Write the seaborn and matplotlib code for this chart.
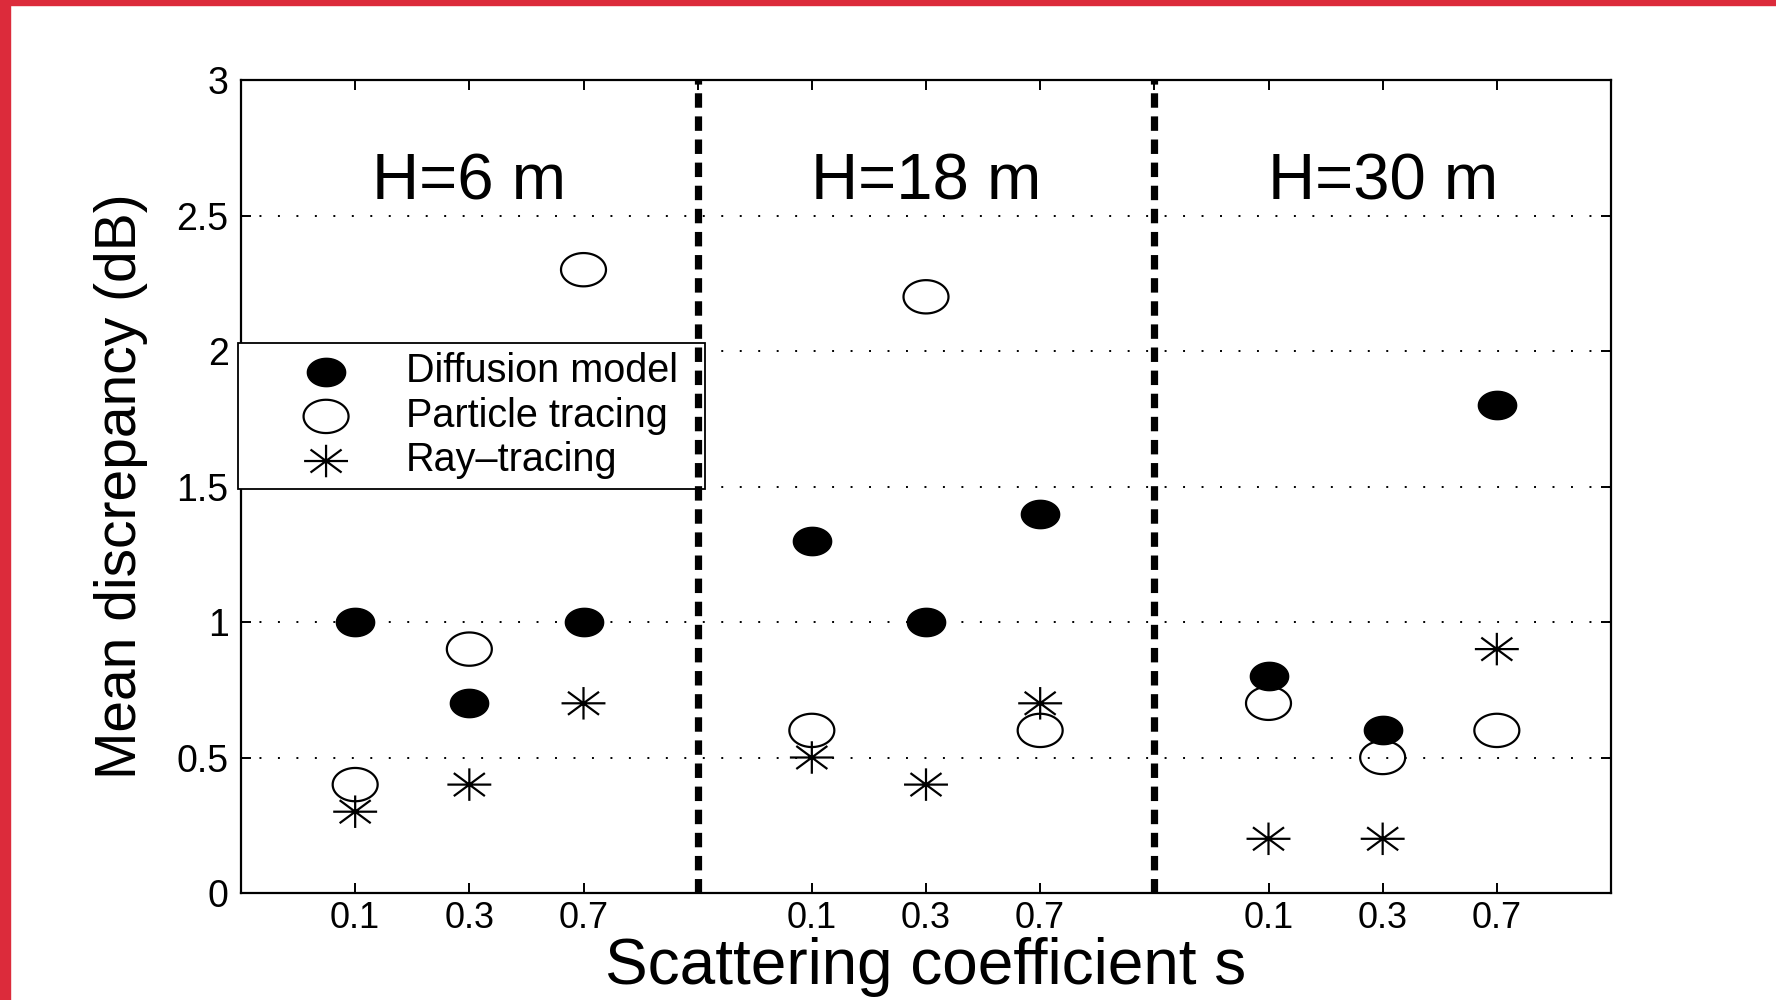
import numpy as np
import pandas as pd
import matplotlib
matplotlib.use("Agg")
import matplotlib.pyplot as plt
from matplotlib.path import Path
from matplotlib.patches import Rectangle
import seaborn as sns

# ---------------- data ----------------
heights = ["H=6 m", "H=18 m", "H=30 m"]
scattering = ["0.1", "0.3", "0.7"]
diffusion = [1.0, 0.7, 1.0, 1.3, 1.0, 1.4, 0.8, 0.6, 1.8]
particle = [0.4, 0.9, 2.3, 0.6, 2.2, 0.6, 0.7, 0.5, 0.6]
raytracing = [0.3, 0.4, 0.7, 0.5, 0.4, 0.7, 0.2, 0.2, 0.9]
series_names = ["Diffusion model", "Particle tracing", "Ray\u2013tracing"]
y_ticks = [0, 0.5, 1, 1.5, 2, 2.5, 3]
y_ticklabels = ["0", "0.5", "1", "1.5", "2", "2.5", "3"]

# positions: three groups of three categories separated by a divider slot
xpos = [4 * g + i + 1 for g in range(len(heights)) for i in range(len(scattering))]
df = pd.DataFrame({
    "x": xpos * 3,
    "y": diffusion + particle + raytracing,
    "series": [series_names[0]] * 9 + [series_names[1]] * 9 + [series_names[2]] * 9,
})

# ---------------- style ----------------
sns.set_style("ticks")
plt.rcParams["font.family"] = ["Liberation Sans", "DejaVu Sans"]
plt.rcParams["axes.linewidth"] = 1.6
for k in ["text.color", "axes.labelcolor", "xtick.color", "ytick.color", "axes.edgecolor"]:
    plt.rcParams[k] = "black"

fig = plt.figure(figsize=(17.76, 10), dpi=100)
ax = fig.add_axes([241 / 1776, 1 - 893 / 1000, (1611 - 241) / 1776, (893 - 80) / 1000])

# ellipse marker (horizontally stretched circle)
t = np.linspace(0, 2 * np.pi, 64)
ell = Path(np.column_stack([np.cos(t), 0.74 * np.sin(t)]), closed=True)
# asterisk marker (8 rays, stretched horizontally)
angs = np.deg2rad([0, 45, 90, 135])
verts, codes = [], []
for a in angs:
    dx, dy = np.cos(a), 0.74 * np.sin(a)
    verts += [(-dx, -dy), (dx, dy)]
    codes += [Path.MOVETO, Path.LINETO]
star = Path(verts, codes)

d0 = df[df.series == series_names[0]]
d1 = df[df.series == series_names[1]]
d2 = df[df.series == series_names[2]]

sns.scatterplot(data=d0, x="x", y="y", marker=ell, s=760, color="black",
                facecolor="black", edgecolor="black", linewidth=1.0,
                label=series_names[0], ax=ax, zorder=3)
sns.scatterplot(data=d1, x="x", y="y", marker=ell, s=1050, color="black",
                facecolor="none", edgecolor="black", linewidth=1.6,
                label=series_names[1], ax=ax, zorder=3)
sns.scatterplot(data=d2, x="x", y="y", marker=star, s=1000, color="black",
                facecolor="none", edgecolor="black", linewidth=1.6,
                label=series_names[2], ax=ax, zorder=4)

# dividers between height groups
for xd in [4, 8]:
    ax.axvline(xd, color="black", linewidth=5.2, linestyle=(0, (2.0, 1.2)),
               dash_capstyle="butt", zorder=6)

# group titles
for g, h in enumerate(heights):
    ax.text(4 * g + 2, 2.62, h, ha="center", va="center", fontsize=47)

ax.set_xlim(0, 12)
ax.set_ylim(0, 3)
xt = list(range(1, 12))
xl = []
for v in xt:
    xl.append("" if v % 4 == 0 else scattering[(v % 4) - 1])
ax.set_xticks(xt)
ax.set_xticklabels(xl)
ax.set_yticks(y_ticks)
ax.set_yticklabels(y_ticklabels)
ax.tick_params(direction="in", length=7, width=1.4, top=True, right=True,
               labelsize=27, pad=9)
ax.tick_params(axis="x", pad=5.5, labelsize=26)
ax.yaxis.grid(True, linestyle=(0, (1, 8.5)), color="black", linewidth=1.4)
ax.xaxis.grid(False)
for sp in ax.spines.values():
    sp.set_visible(True)
    sp.set_color("black")

ax.set_xlabel("Scattering coefficient s", fontsize=46)
ax.xaxis.set_label_coords(0.5, -0.054)
ax.set_ylabel("Mean discrepancy (dB)", fontsize=41)
ax.yaxis.set_label_coords(-0.068, 0.5)

leg = ax.legend(loc="upper left", bbox_to_anchor=(-0.0022, 0.4994, 0.341, 0.177),
                mode="expand", fontsize=28.5, frameon=True, fancybox=False,
                borderaxespad=0, borderpad=0.23, handlelength=3.99,
                handletextpad=0.02, labelspacing=0.167)
leg.get_frame().set_edgecolor("black")
leg.get_frame().set_linewidth(1.3)
leg.get_frame().set_alpha(1)

# red frame strips of the original picture
red = "#DC2B3B"
fig.patches.append(Rectangle((0, 0), 10 / 1776, 1, transform=fig.transFigure,
                             color=red, zorder=10))
fig.patches.append(Rectangle((0, 1 - 5 / 1000), 1, 5 / 1000, transform=fig.transFigure,
                             color=red, zorder=10))

fig.savefig("out.png", dpi=100)
